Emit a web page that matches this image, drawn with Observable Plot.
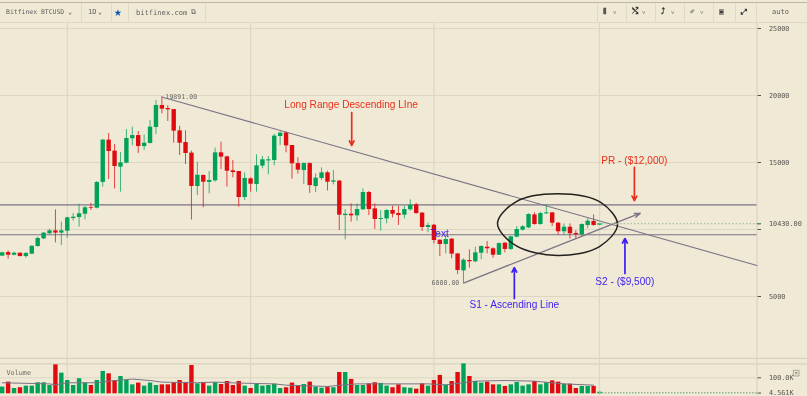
<!DOCTYPE html>
<html>
<head>
<meta charset="utf-8">
<script src="https://cdn.jsdelivr.net/npm/d3@7"></script>
<script src="https://cdn.jsdelivr.net/npm/@observablehq/plot@0.6"></script>
<style>
html,body{margin:0;padding:0;background:#f0e9d5;overflow:hidden}
#wrap{position:relative;width:807px;height:396px;background:#f0e9d5;overflow:hidden;filter:blur(0.3px)}
#main,#vol{position:absolute;left:0}
#main{top:22px}
#vol{top:353px}
svg{display:block;background:transparent!important}
#bar{position:absolute;left:0;top:2px;width:807px;height:19px;border-top:1px solid #bdb7a8;border-bottom:1px solid #dfd8c4;font:7px "DejaVu Sans Mono",monospace;color:#5f5e60}
#bar span{position:absolute;top:4.5px;white-space:pre}
#bar span.ic{color:#3d3b3d;font-weight:bold;font-size:8px;top:3.5px}
#bar span.ch{font-size:5.5px;top:6px;color:#7d7b78}
#bar i{position:absolute;top:0;width:1px;height:19px;background:#e0d9c5}
</style>
</head>
<body>
<div id="wrap">
<div id="bar"></div>
<div id="main"></div>
<div id="vol"></div>
</div>
<script>
const open = [8010,8280,8080,8230,7980,8160,8730,9300,9680,9900,9730,9870,10820,10890,11140,11640,11590,13510,16670,15850,14650,14950,16770,17010,16190,16420,17610,19250,19030,18950,17360,16490,15700,13210,14030,13510,13630,15720,15420,14380,14330,12390,13780,13360,14730,15120,15150,16940,17210,16270,14920,14400,14920,13210,13810,14230,13530,13610,11040,11140,11020,11470,12760,11540,10750,10790,11420,11190,11070,11470,11840,11220,10150,10320,9200,8880,9280,8180,6910,7690,7590,8230,8680,8560,8080,8980,8510,9430,9950,10120,11090,10370,11170,11240,10470,9830,10170,9700,9600,10300,10600,10320];
const close = [8260,8080,8230,7980,8210,8750,9330,9730,9900,9730,9900,10870,10920,11170,11620,11590,13510,16670,15820,14700,14970,16790,17010,16190,16440,17640,19250,18980,18930,17340,16440,15670,13210,14050,13530,13660,15720,15400,14350,14250,12390,13810,13380,14750,15200,15200,16970,17190,16240,14900,14430,14920,13280,13830,14230,13530,13630,11070,11140,11020,11490,12760,11490,10750,10820,11420,11140,11040,11490,11810,11190,10150,10300,9180,8880,9250,8160,6940,7710,7590,8260,8730,8560,8080,8950,8510,9450,10000,10200,11120,10370,11190,11240,10470,9830,10170,9680,9600,10370,10620,10300,10430];
const high = [8310,8410,8310,8260,8280,8780,9430,9770,10020,11470,10550,10920,11190,11890,11720,11960,13580,16720,17160,16340,15750,17460,17640,17310,17060,18130,19630,19891,19250,18950,17710,17360,15850,15020,14080,14330,16070,16520,15470,15150,14330,14230,13860,15570,15450,15450,17110,17290,17290,16270,15350,14970,14970,14150,14600,14350,14400,13660,11490,11910,11910,13030,12840,11910,11420,11470,11740,11720,11720,12210,11960,11270,10470,10370,9230,9550,9330,8180,7810,8480,8680,8780,9100,8630,9000,9000,9500,10220,10300,11170,11240,11290,11820,11270,10520,10420,10420,9920,10420,10800,11090,10450];
const low = [8010,7780,8030,7960,7860,8130,8680,9250,9600,9000,8800,9350,10620,10170,10720,11420,11540,13160,13730,13030,12790,14900,16240,15670,15900,16390,17090,18630,18060,16440,15520,14850,10700,12540,11620,12660,13530,14480,13160,13860,11670,12160,12790,12790,14530,14080,14750,16270,15720,13760,14130,13360,12690,12760,13660,12880,13330,9920,9230,10550,10620,11420,11040,10000,9870,10420,10870,10300,10790,11370,11140,9850,9750,8930,7980,8180,7810,6640,6000,7110,7510,7740,8180,7860,8060,8260,8430,9380,9880,10070,10320,10320,11120,10220,9580,9550,9280,9250,9430,10050,10250,10300];
const volumeK = [42,73,33,38,48,48,69,69,52,181,129,83,52,94,67,52,83,140,125,83,108,83,56,67,48,67,52,56,56,69,83,71,177,62,71,48,69,58,77,52,77,48,33,58,48,52,60,33,38,67,48,58,73,42,35,42,38,133,133,90,52,52,62,69,65,48,38,56,38,35,29,62,48,83,115,54,77,133,187,108,77,67,73,56,56,46,56,71,48,56,77,56,69,81,73,60,60,33,46,46,46,10];
const volumeMaIndex = [0,8,9,11,16,18,22,25,27,33,36,40,46,48,55,58,60,72,75,78,80,85,90,95,100];
const volumeMaK = [69,62,56,69,69,79,92,83,73,69,73,67,62,54,46,56,62,62,56,69,79,83,79,62,54];
const priceTicks = [25000,20000,15000,10430,10000,5000];
const gridPrices = [25000,20000,15000,10000,5000];
const gridIndex = [11,42,73,101];
const rangeLines = [11835,9605];
const ellipseIndex = [83.75,86.8,93.9,101.2,104.05,101,93.9,86.8];
const ellipsePrice = [10450,12050,12660,12020,10370,8730,8060,8810];

const GREEN="#00a259", RED="#e00b10", GRID="#ddd6c2", LINE="#7a7386", BLUE="#3c1ff0", ORANGE="#e8301c", MONO="DejaVu Sans Mono", LAST="#8fb98c";
const idx = d3.range(open.length);
const xs = {axis:null, domain:[-0.287,127.63]};
const redI = idx.filter(i=>close[i]<open[i]), greenI = idx.filter(i=>close[i]>=open[i]);
const wick = (I,c)=>Plot.ruleX(I,{x:i=>i,y1:i=>low[i],y2:i=>high[i],stroke:c,strokeWidth:1,strokeOpacity:0.75});
const body = (I,c)=>Plot.ruleX(I,{x:i=>i,y1:i=>open[i],y2:i=>close[i],stroke:c,strokeWidth:4.4});
const label=(t,i,p,opts)=>Plot.text([t],{x:()=>i,y:()=>p,text:d=>d,...opts});
const sans={fontFamily:"Liberation Sans",fontSize:10.1,textAnchor:"start"};
const arrow=(i,p1,p2,c)=>Plot.arrow([0],{x1:()=>i,x2:()=>i,y1:()=>p1,y2:()=>p2,stroke:c,strokeWidth:1.7,headLength:4.5,headAngle:55});

const main = Plot.plot({
  width:807,height:331,marginTop:0,marginBottom:0,marginLeft:0,marginRight:50.5,
  x:xs,
  y:{domain:[25000,5000],range:[6,274]},
  marks:[
    Plot.ruleY(gridPrices,{stroke:GRID,strokeWidth:1.2}),
    Plot.ruleX(gridIndex,{stroke:GRID,strokeWidth:1.2,y1:25450,y2:0}),
    Plot.ruleX([127.63],{stroke:GRID,strokeWidth:1.2,y1:25450,y2:0}),
    Plot.ruleY(rangeLines,{stroke:LINE,strokeWidth:1.1}),
    wick(greenI,GREEN),wick(redI,RED),body(greenI,GREEN),body(redI,RED),
    Plot.line([[27,19891],[127.63,7310]],{x:d=>d[0],y:d=>d[1],stroke:LINE,strokeWidth:1.1}),
    Plot.arrow([0],{x1:()=>78,y1:()=>6000,x2:()=>107.9,y2:()=>11216,stroke:LINE,strokeWidth:1.3,headLength:7,headAngle:40}),
    Plot.line(idx.slice(0,8),{x:i=>ellipseIndex[i],y:i=>ellipsePrice[i],curve:"catmull-rom-closed",stroke:"#23211f",strokeWidth:1.5}),
    Plot.ruleY([10430],{x1:101,x2:127.63,stroke:LAST,strokeWidth:1,strokeDasharray:"1.5 2"}),
    label("19891.00",27.6,19925,{fontFamily:MONO,fontSize:6.6,textAnchor:"start",fill:"#6e6b68"}),
    label("6000.00",77.3,6000,{fontFamily:MONO,fontSize:6.6,textAnchor:"end",fill:"#6e6b68"}),
    label("Long Range Descending LIne",59,19330,{...sans,textAnchor:"middle",fill:ORANGE}),
    label("PR - ($12,000)",101.3,15150,{...sans,fill:ORANGE}),
    label("S1 - Ascending Line",79,4400,{...sans,fill:BLUE}),
    label("S2 - ($9,500)",100.3,6120,{...sans,fill:BLUE}),
    label("Text",72.4,9700,{...sans,fontSize:10,fill:BLUE}),
    arrow(59.1,18730,16270,ORANGE),
    arrow(106.9,14630,12160,ORANGE),
    arrow(86.6,4850,7160,BLUE),
    arrow(105.3,6720,9330,BLUE),
    Plot.axisY({anchor:"right",ticks:priceTicks,tickSize:3.5,tickPadding:8.5,label:null,stroke:"#55524e",
      tickFormat:d=>d===10000?"":d===10430?"10430.00":String(d),fontFamily:MONO,fontSize:6.8,color:"#55524e"}),
    Plot.ruleY([10430],{x1:127.63,x2:128.25,stroke:"#4f9f68",strokeWidth:1.2})
  ]
});
document.getElementById("main").append(main);

const vol = Plot.plot({
  width:807,height:43,marginTop:0,marginBottom:0,marginLeft:0,marginRight:50.5,
  x:xs,
  y:{domain:[0,100],range:[40.3,24.3]},
  marks:[
    Plot.ruleY([100],{stroke:GRID,strokeWidth:1}),
    Plot.ruleY([187,222],{stroke:"#d8d1bd",strokeWidth:1.2,x1:-0.287,x2:136.2}),
    Plot.ruleX(gridIndex,{stroke:GRID,strokeWidth:1.2,y1:-10,y2:250}),
    Plot.ruleX([127.63],{stroke:GRID,strokeWidth:1.2,y1:-10,y2:250}),
    Plot.ruleX(greenI,{x:i=>i,y1:0,y2:i=>volumeK[i],stroke:GREEN,strokeWidth:4.4}),
    Plot.ruleX(redI,{x:i=>i,y1:0,y2:i=>volumeK[i],stroke:RED,strokeWidth:4.4}),
    Plot.line(volumeMaIndex.map((x,i)=>i),{x:i=>volumeMaIndex[i],y:i=>volumeMaK[i],stroke:LINE,strokeWidth:1}),
    Plot.ruleY([7],{x1:101,x2:127.63,stroke:LAST,strokeWidth:1.4,strokeDasharray:"1.5 1.5"}),
    label("Volume",0.72,130,{fontFamily:MONO,fontSize:6.8,textAnchor:"start",fill:"#6e6b68"}),
    Plot.dot([0],{x:()=>134.26,y:()=>129,symbol:"square",r:3.2,stroke:"#9a968c",strokeWidth:0.8}),
    label("×",134.26,129,{fontFamily:MONO,fontSize:6,fill:"#5f5e60",textAnchor:"middle"}),
    Plot.axisY({anchor:"right",ticks:[100,4.561],tickSize:3.5,tickPadding:8.5,label:null,stroke:"#55524e",
      tickFormat:d=>d===100?"100.0K":"4.561K",fontFamily:MONO,fontSize:6.8,color:"#55524e"})
  ]
});
document.getElementById("vol").append(vol);

// toolbar: text labels and separators
const bar=document.getElementById("bar");
const seps=[81,111,128,205,597,626,655,684,713,735,756];
const items=[["Bitfinex BTCUSD",6,6.45],["⌄",68,7],["1D",88,7],["⌄",98,7],["bitfinex.com",136,7.1],["⧉",191,7],["auto",772,7]];
const icons=[["⦀",603],["⤭",632],["⤴",661],["✐",690],["▣",719],["⤢",741]];
const chevrons=[613,642,671,700];
seps.forEach(x=>{const s=document.createElement("i");s.style.left=x+"px";bar.append(s)});
items.forEach(([t,x,f])=>{const s=document.createElement("span");s.textContent=t;s.style.left=x+"px";s.style.fontSize=f+"px";bar.append(s)});
icons.forEach(([t,x])=>{const s=document.createElement("span");s.className="ic";s.textContent=t;s.style.left=x+"px";bar.append(s)});
chevrons.forEach(x=>{const s=document.createElement("span");s.className="ch";s.textContent="v";s.style.left=x+"px";bar.append(s)});
const star=document.createElement("span");star.textContent="★";star.style.cssText="left:114px;top:1px;font-size:13px;color:#0b55b4";bar.append(star);
</script>
</body>
</html>
